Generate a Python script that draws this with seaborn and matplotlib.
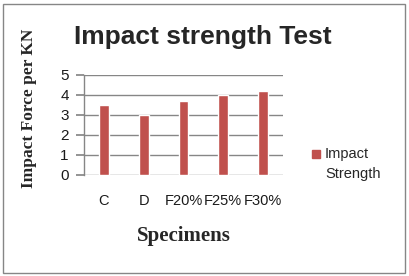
import matplotlib
matplotlib.use("Agg")
import matplotlib.pyplot as plt
import seaborn as sns
import pandas as pd
from matplotlib.patches import Rectangle

categories = ["C", "D", "F20%", "F25%", "F30%"]
values = [3.5, 3.0, 3.7, 4.0, 4.2]
series_name = "Impact Strength"
yticks = [0, 1, 2, 3, 4, 5]

sns.set_theme(style="white")
plt.rcParams['font.family'] = ['Liberation Sans', 'DejaVu Sans']

df = pd.DataFrame({"Specimen": categories, "Value": values, "Series": series_name})

fig = plt.figure(figsize=(4.09, 2.76), dpi=100)
ax = fig.add_axes([84/409, 1-175/276, 199/409, 100/276])
sns.barplot(data=df, x="Specimen", y="Value", hue="Series", palette=["#C0504D"],
            width=0.25, ax=ax, saturation=1, legend=False)
ax.set_xlim(-0.5, 4.5)
ax.set_ylim(0, 5)
ax.set_yticks(yticks)
ax.yaxis.grid(True, color="#868686", linewidth=1)
ax.set_axisbelow(True)
for s in ["top", "right", "bottom"]:
    ax.spines[s].set_visible(False)
ax.spines["left"].set_color("#868686")
ax.spines["left"].set_linewidth(1)
ax.tick_params(axis="y", length=6, color="#868686", labelsize=11, pad=5, left=True,
               labelcolor="#1a1a1a")
ax.tick_params(axis="x", length=0, labelsize=10.5, pad=14, labelcolor="#1a1a1a")
ax.set_xlabel("Specimens", fontsize=15, fontweight="bold", family="Liberation Serif", labelpad=13)
ax.set_ylabel("Impact Force per KN", fontsize=12.5, fontweight="bold", family="Liberation Serif")
ax.yaxis.set_label_coords(-0.236, 0.665)

fig.text(203/409, 1-37/276, "Impact strength Test", ha="center", va="center",
         fontsize=19, fontweight="bold")

# legend
fig.patches.append(Rectangle((312/409, 1-158/276), 8/409, 8/276, transform=fig.transFigure,
                             color="#C0504D", figure=fig))
fig.text(325/409, 1-154/276, "Impact", ha="left", va="center", fontsize=10.5)
fig.text(325/409, 1-174/276, "Strength", ha="left", va="center", fontsize=10.5)

fig.patches.append(Rectangle((3/409, 3/276), 402/409, 269/276, transform=fig.transFigure,
                             fill=False, edgecolor="#868686", linewidth=1, figure=fig))
fig.savefig("out.png", dpi=100)
